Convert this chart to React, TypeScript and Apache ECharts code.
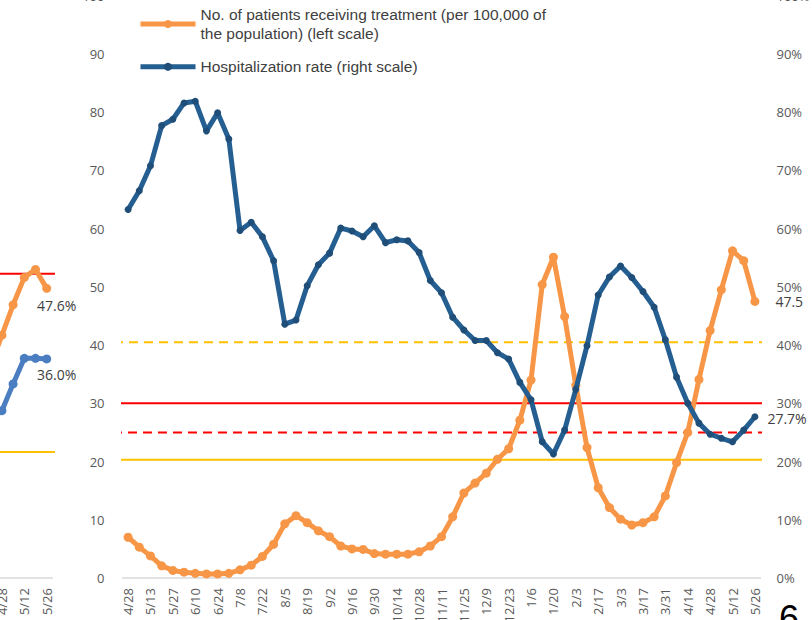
import React, { useEffect, useRef } from "react";
import * as echarts from "echarts";

// ---------- data ----------
const categories = [
  "4/28", "5/6", "5/13", "5/20", "5/27", "6/3", "6/10", "6/17", "6/24", "7/1",
  "7/8", "7/15", "7/22", "7/29", "8/5", "8/12", "8/19", "8/26", "9/2", "9/9",
  "9/16", "9/23", "9/30", "10/7", "10/14", "10/21", "10/28", "11/4", "11/11", "11/18",
  "11/25", "12/2", "12/9", "12/16", "12/23", "12/30", "1/6", "1/13", "1/20", "1/27",
  "2/3", "2/10", "2/17", "2/24", "3/3", "3/10", "3/17", "3/24", "3/31", "4/7",
  "4/14", "4/21", "4/28", "5/5", "5/12", "5/19", "5/26",
];

// No. of patients receiving treatment (per 100,000), left scale
const patientsPer100k = [
  7.0, 5.3, 3.8, 2.1, 1.3, 1.0, 0.8, 0.7, 0.7, 0.8,
  1.4, 2.2, 3.7, 5.8, 9.3, 10.7, 9.5, 8.1, 7.1, 5.5,
  5.0, 4.9, 4.2, 4.1, 4.1, 4.1, 4.5, 5.5, 7.1, 10.5,
  14.6, 16.3, 18.0, 20.4, 22.2, 27.1, 34.0, 50.4, 55.1, 44.9,
  33.1, 22.4, 15.5, 12.1, 10.1, 9.1, 9.5, 10.5, 14.1, 19.8,
  25.0, 34.1, 42.5, 49.5, 56.2, 54.5, 47.5,
];

// Hospitalization rate (%), right scale
const hospitalizationRate = [
  63.3, 66.5, 70.8, 77.7, 78.8, 81.6, 81.9, 76.8, 79.9, 75.4,
  59.7, 61.1, 58.6, 54.5, 43.6, 44.3, 50.2, 53.8, 55.8, 60.1,
  59.6, 58.6, 60.5, 57.6, 58.1, 57.9, 55.9, 51.1, 49.0, 44.8,
  42.6, 40.8, 40.8, 38.7, 37.6, 33.6, 30.6, 23.4, 21.3, 25.4,
  32.4, 39.9, 48.6, 51.7, 53.6, 51.6, 49.2, 46.5, 40.9, 34.5,
  30.0, 26.6, 24.7, 24.0, 23.4, 25.4, 27.7,
];

const axisTicks = [0, 10, 20, 30, 40, 50, 60, 70, 80, 90, 100];

// reference levels: red solid, red dashed, yellow solid, yellow dashed
const refLevels = [30, 25, 20.3, 40.5];

// partially visible neighbouring chart (left edge)
const prevCategories = ["4/21", "4/28", "5/5", "5/12", "5/19", "5/26"];
const prevOrange = [35.0, 39.9, 44.9, 49.4, 50.7, 47.6];
const prevBlue = [26.0, 27.5, 31.9, 36.1, 36.1, 36.0];
const prevRefLevels = [50, 20.7]; // red solid, yellow solid

const pageNumber = "6";

const NAME_PATIENTS =
  "No. of patients receiving treatment (per 100,000 of\nthe population) (left scale)";
const NAME_HOSP = "Hospitalization rate (right scale)";

// ---------- styles ----------
const ORANGE = "#F79646";
const BLUE_LINE = "#255E91";
const BLUE_DOT = "#1F4E79";
const BLUE_LIGHT = "#4A7EC1";
const RED = "#FF0000";
const YELLOW = "#FFC000";
const AXIS_TEXT = "#595959";
const LABEL_TEXT = "#404040";
const FONT = "Open Sans";

const refStyles = [
  { color: RED, type: "solid", from: -2.24, to: 57.08 },
  { color: RED, type: [9, 6], from: -2.69, to: 61.2 },
  { color: YELLOW, type: "solid", from: -2.24, to: 57.35 },
  { color: YELLOW, type: [9, 6], from: -2.6, to: 59.3 },
];
const prevRefStyles = [
  { color: RED, from: -1.2, to: 6.43 },
  { color: YELLOW, from: -1.2, to: 6.19 },
];

function withLastLabel(values: number[], label: any) {
  return values.map((v, i) =>
    i === values.length - 1 ? { value: v, label: { show: true, ...label } } : v
  );
}

function buildOption(): any {
  const axisLabelStyle = { color: AXIS_TEXT, fontFamily: FONT, fontSize: 13 };
  const mainRefs = refLevels.map((lv, i) => ({
    type: "line",
    xAxisIndex: 1,
    yAxisIndex: 0,
    clip: false,
    silent: true,
    symbol: "none",
    lineStyle: { color: refStyles[i].color, width: 2, type: refStyles[i].type },
    data: [
      [refStyles[i].from, lv],
      [refStyles[i].to, lv],
    ],
    z: 1,
  }));
  const prevRefs = prevRefLevels.map((lv, i) => ({
    type: "line",
    xAxisIndex: 3,
    yAxisIndex: 2,
    clip: false,
    silent: true,
    symbol: "none",
    lineStyle: { color: prevRefStyles[i].color, width: 2 },
    data: [
      [prevRefStyles[i].from, lv],
      [prevRefStyles[i].to, lv],
    ],
    z: 1,
  }));
  const dataLabel = { fontFamily: FONT, fontSize: 14, color: LABEL_TEXT };
  const legendText = {
    fontFamily: "Liberation Sans",
    fontSize: 15.5,
    lineHeight: 19,
    color: LABEL_TEXT,
  };
  const legendCommon = {
    orient: "vertical",
    left: 138,
    padding: 0,
    itemWidth: 55,
    itemHeight: 10,
    textStyle: legendText,
    selectedMode: false,
    lineStyle: { width: 5 },
  };

  return {
    animation: false,
    backgroundColor: "#ffffff",
    grid: [
      { left: 122.5, width: 638, top: -4.2, height: 582.2, outerBoundsMode: "none" },
      { left: -14.9, width: 67.2, top: -30.5, height: 608.5, outerBoundsMode: "none" },
    ],
    legend: [
      { ...legendCommon, data: [NAME_PATIENTS], top: 5 },
      { ...legendCommon, data: [NAME_HOSP], top: 57.2 },
    ],
    xAxis: [
      {
        type: "category",
        gridIndex: 0,
        data: categories,
        boundaryGap: true,
        axisLine: { lineStyle: { color: "#D9D9D9", width: 1.5 } },
        axisTick: { show: false },
        axisLabel: { ...axisLabelStyle, interval: 1, rotate: 90, margin: 10 },
        splitLine: { show: false },
      },
      { type: "value", gridIndex: 0, min: -0.5, max: categories.length - 0.5, show: false },
      {
        type: "category",
        gridIndex: 1,
        data: prevCategories,
        boundaryGap: true,
        axisLine: { lineStyle: { color: "#D9D9D9", width: 1.5 } },
        axisTick: { show: false },
        axisLabel: {
          ...axisLabelStyle,
          interval: (i: number) => i % 2 === 1,
          rotate: 90,
          margin: 10,
        },
        splitLine: { show: false },
      },
      { type: "value", gridIndex: 1, min: -0.5, max: prevCategories.length - 0.5, show: false },
    ],
    yAxis: [
      {
        type: "value",
        gridIndex: 0,
        position: "left",
        min: axisTicks[0],
        max: axisTicks[axisTicks.length - 1],
        interval: axisTicks[1] - axisTicks[0],
        axisLine: { show: false },
        axisTick: { show: false },
        splitLine: { show: false },
        axisLabel: { ...axisLabelStyle, margin: 18 },
      },
      {
        type: "value",
        gridIndex: 0,
        position: "right",
        min: axisTicks[0],
        max: axisTicks[axisTicks.length - 1],
        interval: axisTicks[1] - axisTicks[0],
        axisLine: { show: false },
        axisTick: { show: false },
        splitLine: { show: false },
        axisLabel: { ...axisLabelStyle, margin: 16, formatter: "{value}%" },
      },
      { type: "value", gridIndex: 1, min: 0, max: 100, show: false },
    ],
    series: [
      ...mainRefs,
      ...prevRefs,
      {
        name: NAME_PATIENTS,
        type: "line",
        xAxisIndex: 0,
        yAxisIndex: 0,
        symbol: "circle",
        symbolSize: 9,
        showAllSymbol: true,
        lineStyle: { color: ORANGE, width: 5 },
        itemStyle: { color: ORANGE },
        data: withLastLabel(patientsPer100k, {
          ...dataLabel,
          position: "right",
          distance: 16,
          formatter: (p: any) => p.value.toFixed(1),
        }),
        z: 3,
      },
      {
        name: NAME_HOSP,
        type: "line",
        xAxisIndex: 0,
        yAxisIndex: 1,
        symbol: "circle",
        symbolSize: 7,
        showAllSymbol: true,
        lineStyle: { color: BLUE_LINE, width: 5 },
        itemStyle: { color: BLUE_DOT },
        data: withLastLabel(hospitalizationRate, {
          ...dataLabel,
          position: "right",
          distance: 9,
          offset: [0, 2],
          formatter: (p: any) => p.value.toFixed(1) + "%",
        }),
        z: 4,
      },
      {
        name: "prev-patients",
        type: "line",
        xAxisIndex: 2,
        yAxisIndex: 2,
        symbol: "circle",
        symbolSize: 9,
        showAllSymbol: true,
        lineStyle: { color: ORANGE, width: 5 },
        itemStyle: { color: ORANGE },
        data: withLastLabel(prevOrange, {
          ...dataLabel,
          position: "bottom",
          distance: 6,
          offset: [10, 0],
          formatter: (p: any) => p.value.toFixed(1) + "%",
        }),
        z: 3,
      },
      {
        name: "prev-hosp",
        type: "line",
        xAxisIndex: 2,
        yAxisIndex: 2,
        symbol: "circle",
        symbolSize: 9,
        showAllSymbol: true,
        lineStyle: { color: BLUE_LIGHT, width: 5 },
        itemStyle: { color: BLUE_LIGHT },
        data: withLastLabel(prevBlue, {
          ...dataLabel,
          position: "bottom",
          distance: 4,
          offset: [10, 0],
          formatter: (p: any) => p.value.toFixed(1) + "%",
        }),
        z: 3,
      },
    ],
    graphic: [
      {
        type: "text",
        left: 779,
        top: 600,
        style: {
          text: pageNumber,
          fontSize: 36,
          fontFamily: "Liberation Sans",
          fill: "#000000",
        },
      },
    ],
  };
}

export default function App() {
  const ref = useRef<HTMLDivElement>(null);
  useEffect(() => {
    if (!ref.current) return;
    const chart = echarts.init(ref.current, undefined, { renderer: "svg" });
    chart.setOption(buildOption());
    return () => chart.dispose();
  }, []);
  return (
    <div
      ref={ref}
      style={{ position: "fixed", left: 0, top: 0, width: 812, height: 620, background: "#fff" }}
    />
  );
}
